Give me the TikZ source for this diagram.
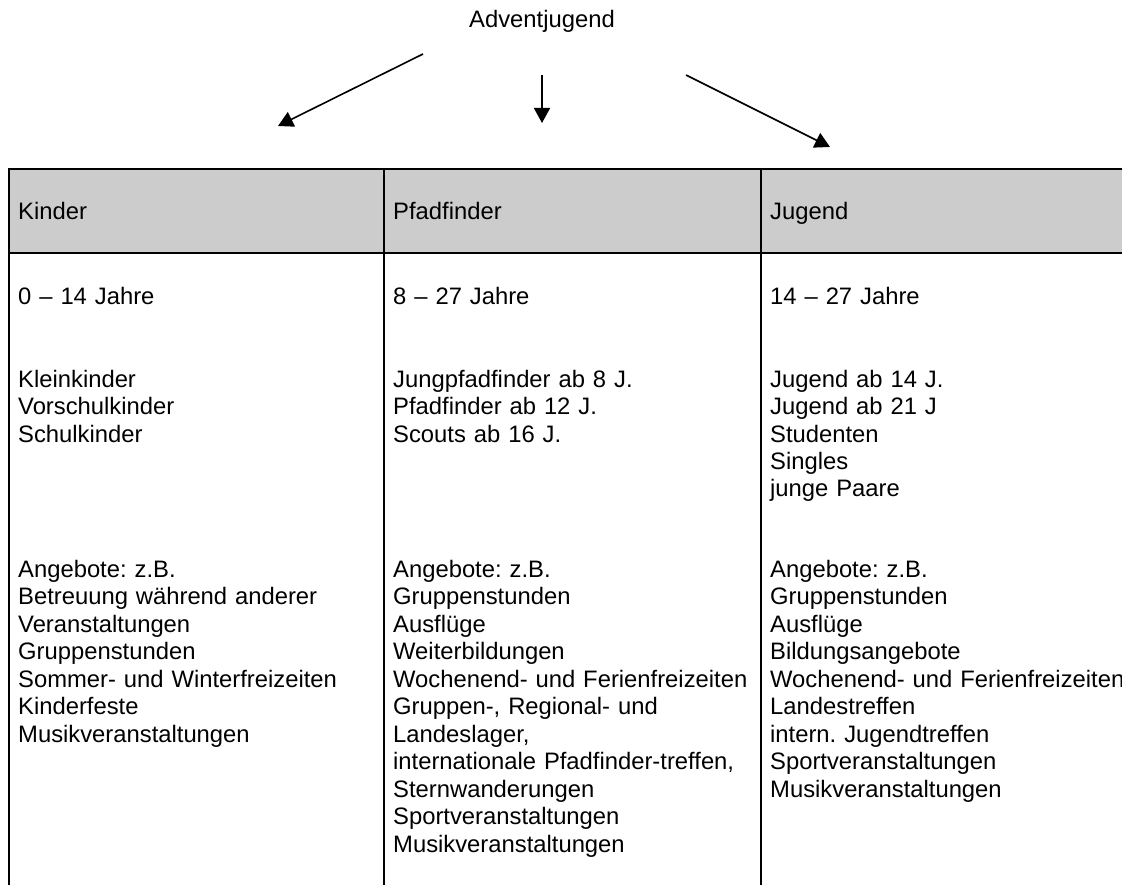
\documentclass[tikz,border=0pt]{standalone}
\usepackage{fontspec}
\setmainfont{Liberation Sans}
\usetikzlibrary{arrows.meta}
\frenchspacing
\begin{document}
\begin{tikzpicture}[x=1pt,y=-1pt,
  cell/.style={anchor=base west,inner sep=0pt,align=left,text width=420pt,
    font=\fontsize{23.8}{27.5}\selectfont\frenchspacing},
  grid/.style={line width=2pt},
  arr/.style={line width=1.6pt,-{Triangle[length=15pt,width=16pt]}}]
\useasboundingbox (0,0) rectangle (1122,885);
\begin{scope}
\clip (0,0) rectangle (1122,885);
% header background
\fill[black!20] (9,169.5) rectangle (1122,253);
% grid lines
\draw[grid] (1122,169.5) -- (9,169.5) -- (9,885);
\draw[grid] (9,253) -- (1122,253);
\draw[grid] (383.5,169.5) -- (383.5,885);
\draw[grid] (760.5,169.5) -- (760.5,885);
% title
\node[anchor=base,inner sep=0pt,font=\fontsize{23.8}{27.5}\selectfont] (title) at (542,28) {Adventjugend};
% arrows
\coordinate (a1s) at (423,54);  \coordinate (a1e) at (278,126);
\coordinate (a2s) at (542,75);  \coordinate (a2e) at (542,123);
\coordinate (a3s) at (686,75);  \coordinate (a3e) at (830,147);
\draw[arr] (a1s) -- (a1e);
\draw[arr] (a2s) -- (a2e);
\draw[arr] (a3s) -- (a3e);
% headers
\node[cell] (h1) at (18,220) {Kinder};
\node[cell] (h2) at (393,220) {Pfadfinder};
\node[cell] (h3) at (770,220) {Jugend};
% ages
\node[cell] (g1) at (18,305) {0 – 14 Jahre};
\node[cell] (g2) at (393,305) {8 – 27 Jahre};
\node[cell] (g3) at (770,305) {14 – 27 Jahre};
% groups
\node[cell] (k1) at (18,387) {Kleinkinder\\Vorschulkinder\\Schulkinder};
\node[cell] (k2) at (393,387) {Jungpfadfinder ab 8 J.\\Pfadfinder ab 12 J.\\Scouts ab 16 J.};
\node[cell] (k3) at (770,387) {Jugend ab 14 J.\\Jugend ab 21 J\\Studenten\\Singles\\junge Paare};
% offers
\node[cell] (o1) at (18,577) {Angebote: z.B.\\Betreuung während anderer\\Veranstaltungen\\Gruppenstunden\\Sommer- und Winterfreizeiten\\Kinderfeste\\Musikveranstaltungen};
\node[cell] (o2) at (393,577) {Angebote: z.B.\\Gruppenstunden\\Ausflüge\\Weiterbildungen\\Wochenend- und Ferienfreizeiten\\Gruppen-, Regional- und\\Landeslager,\\internationale Pfadfinder-treffen,\\Sternwanderungen\\Sportveranstaltungen\\Musikveranstaltungen};
\node[cell] (o3) at (770,577) {Angebote: z.B.\\Gruppenstunden\\Ausflüge\\Bildungsangebote\\Wochenend- und Ferienfreizeiten\\Landestreffen\\intern. Jugendtreffen\\Sportveranstaltungen\\Musikveranstaltungen};
\end{scope}
\end{tikzpicture}
\end{document}
